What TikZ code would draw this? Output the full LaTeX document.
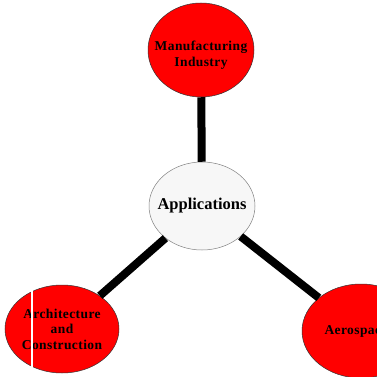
\documentclass[tikz,border=0pt]{standalone}
\usepackage{fontspec}
\setmainfont{Liberation Serif}
\newfontfamily\lblfont[LetterSpace=3]{Liberation Serif}
\usetikzlibrary{shapes.geometric}
\begin{document}
\begin{tikzpicture}[x=1pt,y=-1pt,
  redbub/.style={ellipse, draw=black!80, line width=0.5pt, fill=red, inner sep=0pt},
  redtxt/.style={align=center, inner sep=0pt,
    font=\lblfont\bfseries\fontsize{13.5}{15.5}\selectfont},
  centerbub/.style={ellipse, draw=black!50, line width=0.5pt, fill=black!3, inner sep=0pt},
  centertxt/.style={inner sep=0pt, font=\bfseries\fontsize{16.5}{18}\selectfont},
  link/.style={line width=8pt, black}]
\useasboundingbox (0,0) rectangle (377,377);
\clip (0,0) rectangle (377,377);
\fill[white] (0,0) rectangle (377,377);
\node[redbub, minimum width=106pt, minimum height=94pt] (mfg) at (201,50) {};
\node[redtxt] (mfgt) at ([yshift=-5pt]mfg.center) {Manufacturing\\Industry};
\node[centerbub, minimum width=106pt, minimum height=88pt] (app) at (202,206) {};
\node[centertxt] (appt) at (app.center) {Applications};
\node[redbub, minimum width=114pt, minimum height=88pt] (arch) at (62,329) {};
\node[redtxt] (archt) at (arch.center) {Architecture\\and\\Construction};
\node[redbub, minimum width=118pt, minimum height=94pt] (aero) at (361,331) {};
\node[redtxt] (aerot) at ([xshift=-5pt]aero.center) {Aerospace};
\draw[link] (mfg) -- (app);
\draw[link] (arch) -- (app);
\draw[link] (aero) -- (app);
\coordinate (wtop) at (32,290);
\coordinate (wbot) at (32,368);
\draw[white, line width=2.5pt] (wtop) -- (wbot);
\end{tikzpicture}
\end{document}
